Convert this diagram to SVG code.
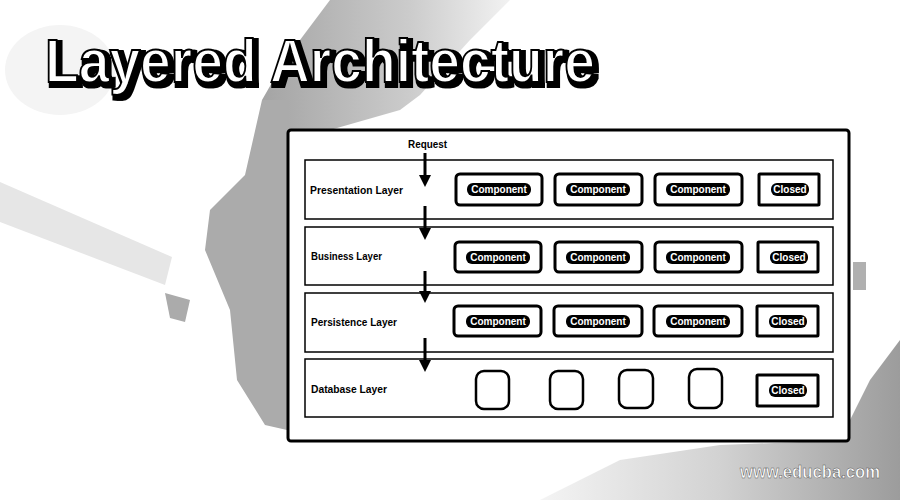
<svg xmlns="http://www.w3.org/2000/svg" width="900" height="500" viewBox="0 0 900 500">
<style>
.title{font-family:"Liberation Sans",Arial,sans-serif;font-weight:bold;font-size:61px}
.lbl{font-family:"Liberation Sans",Arial,sans-serif;font-weight:bold;font-size:11px;fill:#000}
.layer{fill:#fff;stroke:#000;stroke-width:1.5}
.comp{fill:#fff;stroke:#000;stroke-width:3}
.pill{fill:#000}
.ptxt{font-family:"Liberation Sans",Arial,sans-serif;font-weight:bold;font-size:10px;fill:#fff;text-anchor:middle}
.db{fill:#fff;stroke:#000;stroke-width:2.5}
.arrow{stroke:#000;stroke-width:3;fill:none}
</style>
<defs>
<marker id="ah" markerWidth="4" markerHeight="4" refX="2" refY="2" orient="auto" markerUnits="strokeWidth">
<path d="M0,0 L4,2 L0,4 Z" fill="#000"/>
</marker>
<filter id="shadow" x="-5%" y="-20%" width="115%" height="150%">
<feMorphology in="SourceAlpha" operator="dilate" radius="1.5" result="d"/>
<feOffset in="d" dx="3" dy="3" result="o"/>
<feMerge><feMergeNode in="o"/><feMergeNode in="SourceGraphic"/></feMerge>
</filter>
<linearGradient id="br" x1="0" y1="0" x2="1" y2="0">
<stop offset="0" stop-color="#f4f4f4"/>
<stop offset="0.5" stop-color="#d2d2d2"/>
<stop offset="1" stop-color="#9c9c9c"/>
</linearGradient>
<linearGradient id="tc" x1="0" y1="0" x2="1" y2="0">
<stop offset="0" stop-color="#a4a4a4"/>
<stop offset="0.6" stop-color="#cccccc"/>
<stop offset="1" stop-color="#f2f2f2"/>
</linearGradient>
</defs>
<rect width="900" height="500" fill="#fff"/>
<g id="background">
<ellipse cx="60" cy="70" rx="55" ry="45" fill="#f4f4f4"/>
<polygon points="330,0 510,0 470,40 420,95 400,110 330,130 287,135 262,100 285,60" fill="url(#tc)"/>
<polygon points="262,100 287,100 287,430 265,425 237,380 230,310 205,250 210,210 245,175" fill="#ababab"/>
<polygon points="0,182 172,257 165,285 0,222" fill="#e6e6e6"/>
<polygon points="165,293 190,300 185,322 170,318" fill="#ababab"/>
<polygon points="540,500 620,460 720,445 850,440 850,420 870,380 900,340 900,500" fill="url(#br)"/>
<polygon points="853,262 866,262 866,290 853,290" fill="#b0b0b0"/>
</g>
<g id="title">
<text class="title" x="45" y="82" textLength="550" lengthAdjust="spacingAndGlyphs" fill="#fff" stroke="#000" stroke-width="2" filter="url(#shadow)">Layered Architecture</text>
</g>
<g id="outer">
<rect x="288" y="130" width="561" height="311" rx="3" fill="#fff" stroke="#000" stroke-width="3"/>
</g>
<g id="presentation">
<rect class="layer" x="305" y="160" width="528" height="59"/>
<text class="lbl" x="310" y="194" textLength="93" lengthAdjust="spacingAndGlyphs">Presentation Layer</text>
<rect class="comp" x="456" y="174" width="86" height="31" rx="4"/>
<rect class="pill" x="467" y="183" width="64" height="13" rx="6"/>
<text class="ptxt" x="499" y="193">Component</text>
<rect class="comp" x="555" y="174" width="87" height="31" rx="4"/>
<rect class="pill" x="566" y="183" width="64" height="13" rx="6"/>
<text class="ptxt" x="598" y="193">Component</text>
<rect class="comp" x="655" y="174" width="87" height="31" rx="4"/>
<rect class="pill" x="666" y="183" width="64" height="13" rx="6"/>
<text class="ptxt" x="698" y="193">Component</text>
<rect class="comp" x="759" y="174" width="60" height="31" rx="1"/>
<rect class="pill" x="771" y="183" width="38" height="13" rx="6"/>
<text class="ptxt" x="790" y="193">Closed</text>
</g>
<g id="business">
<rect class="layer" x="305" y="227" width="528" height="58"/>
<text class="lbl" x="311" y="260" textLength="71" lengthAdjust="spacingAndGlyphs">Business Layer</text>
<rect class="comp" x="455" y="242" width="86" height="30" rx="4"/>
<rect class="pill" x="466" y="251" width="64" height="13" rx="6"/>
<text class="ptxt" x="498" y="261">Component</text>
<rect class="comp" x="555" y="242" width="87" height="30" rx="4"/>
<rect class="pill" x="566" y="251" width="64" height="13" rx="6"/>
<text class="ptxt" x="598" y="261">Component</text>
<rect class="comp" x="655" y="242" width="87" height="30" rx="4"/>
<rect class="pill" x="666" y="251" width="64" height="13" rx="6"/>
<text class="ptxt" x="698" y="261">Component</text>
<rect class="comp" x="758" y="242" width="60" height="30" rx="1"/>
<rect class="pill" x="770" y="251" width="38" height="13" rx="6"/>
<text class="ptxt" x="789" y="261">Closed</text>
</g>
<g id="persistence">
<rect class="layer" x="305" y="293" width="528" height="59"/>
<text class="lbl" x="311" y="326" textLength="86" lengthAdjust="spacingAndGlyphs">Persistence Layer</text>
<rect class="comp" x="454" y="306" width="87" height="30" rx="4"/>
<rect class="pill" x="466" y="315" width="64" height="13" rx="6"/>
<text class="ptxt" x="498" y="325">Component</text>
<rect class="comp" x="554" y="306" width="88" height="30" rx="4"/>
<rect class="pill" x="566" y="315" width="64" height="13" rx="6"/>
<text class="ptxt" x="598" y="325">Component</text>
<rect class="comp" x="654" y="306" width="88" height="30" rx="4"/>
<rect class="pill" x="666" y="315" width="64" height="13" rx="6"/>
<text class="ptxt" x="698" y="325">Component</text>
<rect class="comp" x="757" y="306" width="61" height="30" rx="1"/>
<rect class="pill" x="769" y="315" width="38" height="13" rx="6"/>
<text class="ptxt" x="788" y="325">Closed</text>
</g>
<g id="database">
<rect class="layer" x="305" y="359" width="528" height="58"/>
<text class="lbl" x="311" y="393" textLength="76" lengthAdjust="spacingAndGlyphs">Database Layer</text>
<rect class="db" x="476" y="371" width="33" height="38" rx="8"/>
<rect class="db" x="550" y="371" width="33" height="38" rx="8"/>
<rect class="db" x="619" y="370" width="34" height="38" rx="8"/>
<rect class="db" x="689" y="369" width="33" height="39" rx="8"/>
<rect class="comp" x="757" y="375" width="61" height="31" rx="1"/>
<rect class="pill" x="769" y="384" width="38" height="13" rx="6"/>
<text class="ptxt" x="788" y="394">Closed</text>
</g>
<g id="connectors">
<text class="lbl" x="408" y="148" textLength="39" lengthAdjust="spacingAndGlyphs">Request</text>
<line class="arrow" x1="425" y1="153" x2="425" y2="181" marker-end="url(#ah)"/>
<line class="arrow" x1="425" y1="206" x2="425" y2="234" marker-end="url(#ah)"/>
<line class="arrow" x1="425" y1="271" x2="425" y2="297" marker-end="url(#ah)"/>
<line class="arrow" x1="425" y1="338" x2="425" y2="366" marker-end="url(#ah)"/>
</g>
<g id="watermark">
<text x="740" y="478" font-family="Liberation Sans,Arial,sans-serif" font-weight="bold" font-size="19" fill="#fff" stroke="#555" stroke-width="0.5" textLength="140" lengthAdjust="spacingAndGlyphs">www.educba.com</text>
</g>
</svg>
